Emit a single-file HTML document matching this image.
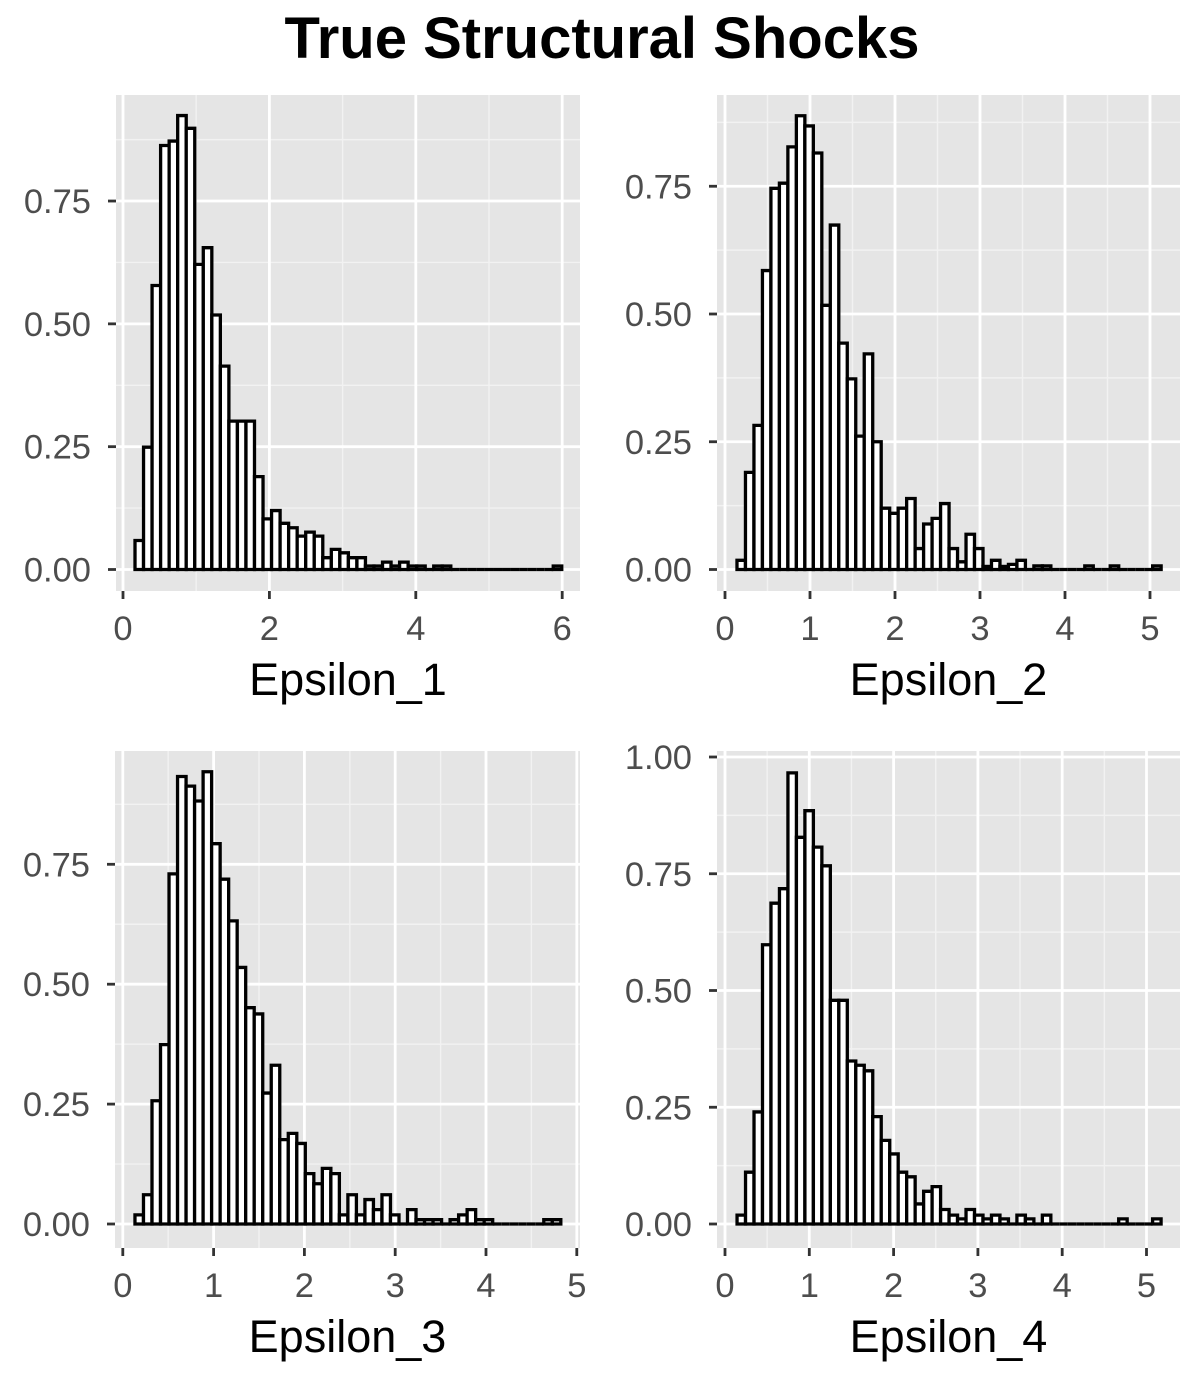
<!DOCTYPE html>
<html>
<head>
<meta charset="utf-8">
<style>
  html,body{margin:0;padding:0;background:#fff;}
  svg{display:block;font-family:"Liberation Sans",Arial,sans-serif;}
</style>
</head>
<body>
<svg id="chart" width="1204" height="1383" viewBox="0 0 1204 1383" xmlns="http://www.w3.org/2000/svg">
  <text x="602" y="58" text-anchor="middle" font-size="58" font-weight="bold" fill="#000">True Structural Shocks</text>
</svg>
<script>
// ---- data (densities) ----
const eps1Values = [0.059,0.249,0.578,0.863,0.872,0.924,0.898,0.621,0.655,0.518,
  0.414,0.302,0.302,0.302,0.189,0.103,0.120,0.094,0.085,0.068,
  0.076,0.068,0.024,0.041,0.034,0.024,0.024,0.007,0.007,0.015,
  0.007,0.015,0.007,0.007,0,0.007,0.007,0,0,0,
  0,0,0,0,0,0,0,0,0,0.007];
const eps2Values = [0.018,0.190,0.282,0.585,0.746,0.756,0.827,0.888,0.868,0.815,
  0.517,0.674,0.443,0.373,0.261,0.422,0.250,0.120,0.110,0.120,
  0.139,0.041,0.089,0.100,0.129,0.041,0.015,0.069,0.041,0.006,
  0.018,0.006,0.010,0.018,0,0.007,0.007,0,0,0,
  0,0.007,0,0,0.007,0,0,0,0,0.007];
const eps3Values = [0.019,0.061,0.257,0.374,0.730,0.933,0.913,0.882,0.943,0.793,
  0.719,0.632,0.535,0.451,0.438,0.273,0.331,0.176,0.189,0.168,
  0.105,0.084,0.116,0.105,0.019,0.061,0.019,0.051,0.030,0.061,
  0.019,0,0.030,0.009,0.009,0.009,0,0.009,0.019,0.030,
  0.009,0.009,0,0,0,0,0,0,0.009,0.009];
const eps4Values = [0.019,0.111,0.240,0.598,0.687,0.718,0.966,0.828,0.885,0.807,
  0.767,0.479,0.479,0.349,0.340,0.328,0.230,0.179,0.150,0.111,
  0.101,0.043,0.070,0.080,0.031,0.019,0.011,0.031,0.019,0.011,
  0.019,0.011,0,0.019,0.011,0,0.019,0,0,0,
  0,0,0,0,0,0.011,0,0,0,0.011];
const binStarts = [0.164, 0.141, 0.134, 0.143];
const binWidths = [0.1166, 0.0998, 0.0938, 0.1006];
const axisTitles = ["Epsilon_1","Epsilon_2","Epsilon_3","Epsilon_4"];
const xTicks1 = [0,2,4,6];
const xTicks2 = [0,1,2,3,4,5];
const xTicks3 = [0,1,2,3,4,5];
const xTicks4 = [0,1,2,3,4,5];
const yTicks1 = [0,0.25,0.5,0.75];
const yTicks2 = [0,0.25,0.5,0.75];
const yTicks3 = [0,0.25,0.5,0.75];
const yTicks4 = [0,0.25,0.5,0.75,1];
const yLabels1 = ["0.00","0.25","0.50","0.75"];
const yLabels4 = ["0.00","0.25","0.50","0.75","1.00"];

// ---- layout ----
const NS = "http://www.w3.org/2000/svg";
const svg = document.getElementById('chart');
const panels = [
  {vals:eps1Values, xt:xTicks1, yt:yTicks1, yl:yLabels1, left:116, right:580, top:95, bottom:591, x0:123, xu:73.2, y0:569.5, yu:491.3},
  {vals:eps2Values, xt:xTicks2, yt:yTicks2, yl:yLabels1, left:717, right:1180, top:95, bottom:591, x0:725, xu:85, y0:569.5, yu:511},
  {vals:eps3Values, xt:xTicks3, yt:yTicks3, yl:yLabels1, left:115, right:580, top:751, bottom:1248, x0:122.8, xu:90.8, y0:1224, yu:479.6},
  {vals:eps4Values, xt:xTicks4, yt:yTicks4, yl:yLabels4, left:717, right:1180, top:751, bottom:1248, x0:725, xu:84.3, y0:1224, yu:467}
];
function mk(tag, attrs, parent){
  const e = document.createElementNS(NS, tag);
  for (const k in attrs) e.setAttribute(k, attrs[k]);
  (parent||svg).appendChild(e);
  return e;
}
panels.forEach((p, i) => {
  const xs = v => p.x0 + v * p.xu;
  const ys = v => p.y0 - v * p.yu;
  const g = mk('g', {});
  
  
  const bg = mk('rect', {x:p.left, y:p.top, width:p.right-p.left, height:p.bottom-p.top, fill:'#e5e5e5'}, g);
  
  
  const ystep = p.yt[1] - p.yt[0];
  for (let v = ystep/2; ys(v) > p.top; v += ystep) {
    const l = mk('line', {x1:p.left, x2:p.right, y1:ys(v), y2:ys(v), stroke:'#f2f2f2', 'stroke-width':1.4}, g);
    
    
  }
  const xstep = p.xt[1] - p.xt[0];
  for (let v = xstep/2; xs(v) < p.right; v += xstep) {
    const l = mk('line', {x1:xs(v), x2:xs(v), y1:p.top, y2:p.bottom, stroke:'#f2f2f2', 'stroke-width':1.4}, g);
    
    
  }
  p.yt.forEach((v, k) => {
    const y = ys(v);
    const l = mk('line', {x1:p.left, x2:p.right, y1:y, y2:y, stroke:'#fff', 'stroke-width':2.8}, g);
    
    
    const t = mk('line', {x1:p.left-8, x2:p.left, y1:y, y2:y, stroke:'#333', 'stroke-width':2.8}, g);
    
    
    const tx = mk('text', {x:p.left-25, y:y+12, 'text-anchor':'end', 'font-size':34.5, fill:'#4d4d4d'}, g);
    tx.textContent = p.yl[k];
    
    
  });
  p.xt.forEach(v => {
    const x = xs(v);
    const l = mk('line', {x1:x, x2:x, y1:p.top, y2:p.bottom, stroke:'#fff', 'stroke-width':2.8}, g);
    
    
    const t = mk('line', {x1:x, x2:x, y1:p.bottom, y2:p.bottom+8, stroke:'#333', 'stroke-width':2.8}, g);
    
    
    const tx = mk('text', {x:x, y:p.bottom+49, 'text-anchor':'middle', 'font-size':34.5, fill:'#4d4d4d'}, g);
    tx.textContent = String(v);
    
    
  });
  const bs = binStarts[i], bw = binWidths[i];
  p.vals.forEach((v, k) => {
    const x1 = xs(bs + k*bw), x2 = xs(bs + (k+1)*bw), yt = ys(v);
    const d = 'M' + x1 + ',' + p.y0 + 'L' + x1 + ',' + yt + 'L' + x2 + ',' + yt + 'L' + x2 + ',' + p.y0 + 'Z';
    const r = mk('path', {d:d, fill:'#fff', stroke:'#000', 'stroke-width':3.3, 'stroke-linejoin':'miter'}, g);
    
    
  });
  const at = mk('text', {x:(p.left+p.right)/2, y:p.bottom+104, 'text-anchor':'middle', 'font-size':45, fill:'#000'}, g);
  at.textContent = axisTitles[i];
  
  
});
</script>
</body>
</html>
